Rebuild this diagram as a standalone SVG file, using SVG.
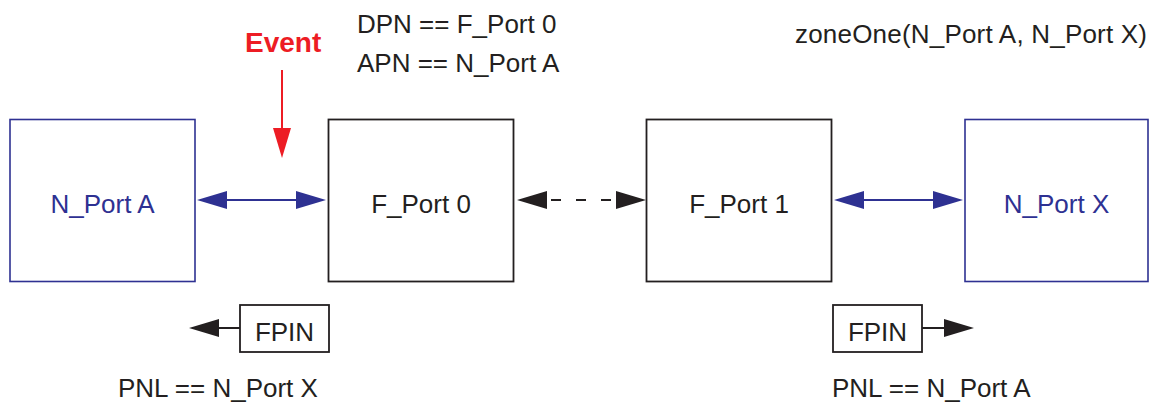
<svg xmlns="http://www.w3.org/2000/svg" width="1161" height="405" viewBox="0 0 1161 405">
<style>
text{font-family:"Liberation Sans",Arial,sans-serif;font-size:26px;fill:#231f20}
.blue{fill:#2e3192}
.nbox{fill:#fff;stroke:#2e3192;stroke-width:1.6}
.fbox{fill:#fff;stroke:#231f20;stroke-width:1.8}
.bl{stroke:#2e3192;stroke-width:2;fill:none}
.bk{stroke:#231f20;stroke-width:2;fill:none}
</style>
<rect width="1161" height="405" fill="#fff"/>
<g id="labels">
<text x="245" y="52" style="font-weight:bold;fill:#ed1c24;font-size:28px">Event</text>
<text x="357" y="33">DPN == F_Port 0</text>
<text x="357" y="72">APN == N_Port A</text>
<text x="795" y="43" textLength="352">zoneOne(N_Port A, N_Port X)</text>
<text x="118" y="397">PNL == N_Port X</text>
<text x="832" y="397">PNL == N_Port A</text>
</g>
<g id="nportA"><rect class="nbox" x="10" y="119.5" width="185" height="162"/><text class="blue" x="102.5" y="213" text-anchor="middle">N_Port A</text></g>
<g id="fport0"><rect class="fbox" x="328.5" y="119.5" width="185" height="162"/><text x="421" y="213" text-anchor="middle">F_Port 0</text></g>
<g id="fport1"><rect class="fbox" x="646.5" y="119.5" width="185" height="162"/><text x="739" y="213" text-anchor="middle">F_Port 1</text></g>
<g id="nportX"><rect class="nbox" x="965" y="119.5" width="183" height="162"/><text class="blue" x="1056.5" y="213" text-anchor="middle">N_Port X</text></g>
<g id="fpin1"><rect class="fbox" x="240" y="305" width="89" height="47"/><text x="284.5" y="341" text-anchor="middle">FPIN</text></g>
<g id="fpin2"><rect class="fbox" x="833" y="305" width="89" height="47"/><text x="877.5" y="341" text-anchor="middle">FPIN</text></g>
<g id="connectors">
<line class="bl" x1="225" y1="200" x2="298" y2="200"/>
<polygon fill="#2e3192" points="197,200 227,191 227,209"/>
<polygon fill="#2e3192" points="326,200 296,191 296,209"/>
<line class="bl" x1="861" y1="200" x2="936" y2="200"/>
<polygon fill="#2e3192" points="834,200 864,191 864,209"/>
<polygon fill="#2e3192" points="963,200 933,191 933,209"/>
<line class="bk" x1="546" y1="200" x2="618" y2="200" stroke-dasharray="10,15" stroke-dashoffset="-5"/>
<polygon fill="#231f20" points="517,200 547,191 547,209"/>
<polygon fill="#231f20" points="646,200 616,191 616,209"/>
<line x1="282" y1="70" x2="282" y2="130" stroke="#ed1c24" stroke-width="2"/>
<polygon fill="#ed1c24" points="282,158 273,128 291,128"/>
<line class="bk" x1="240" y1="328" x2="217" y2="328"/>
<polygon fill="#231f20" points="189,328 219,319 219,337"/>
<line class="bk" x1="922" y1="328" x2="946" y2="328"/>
<polygon fill="#231f20" points="974,328 944,319 944,337"/>
</g>
</svg>
